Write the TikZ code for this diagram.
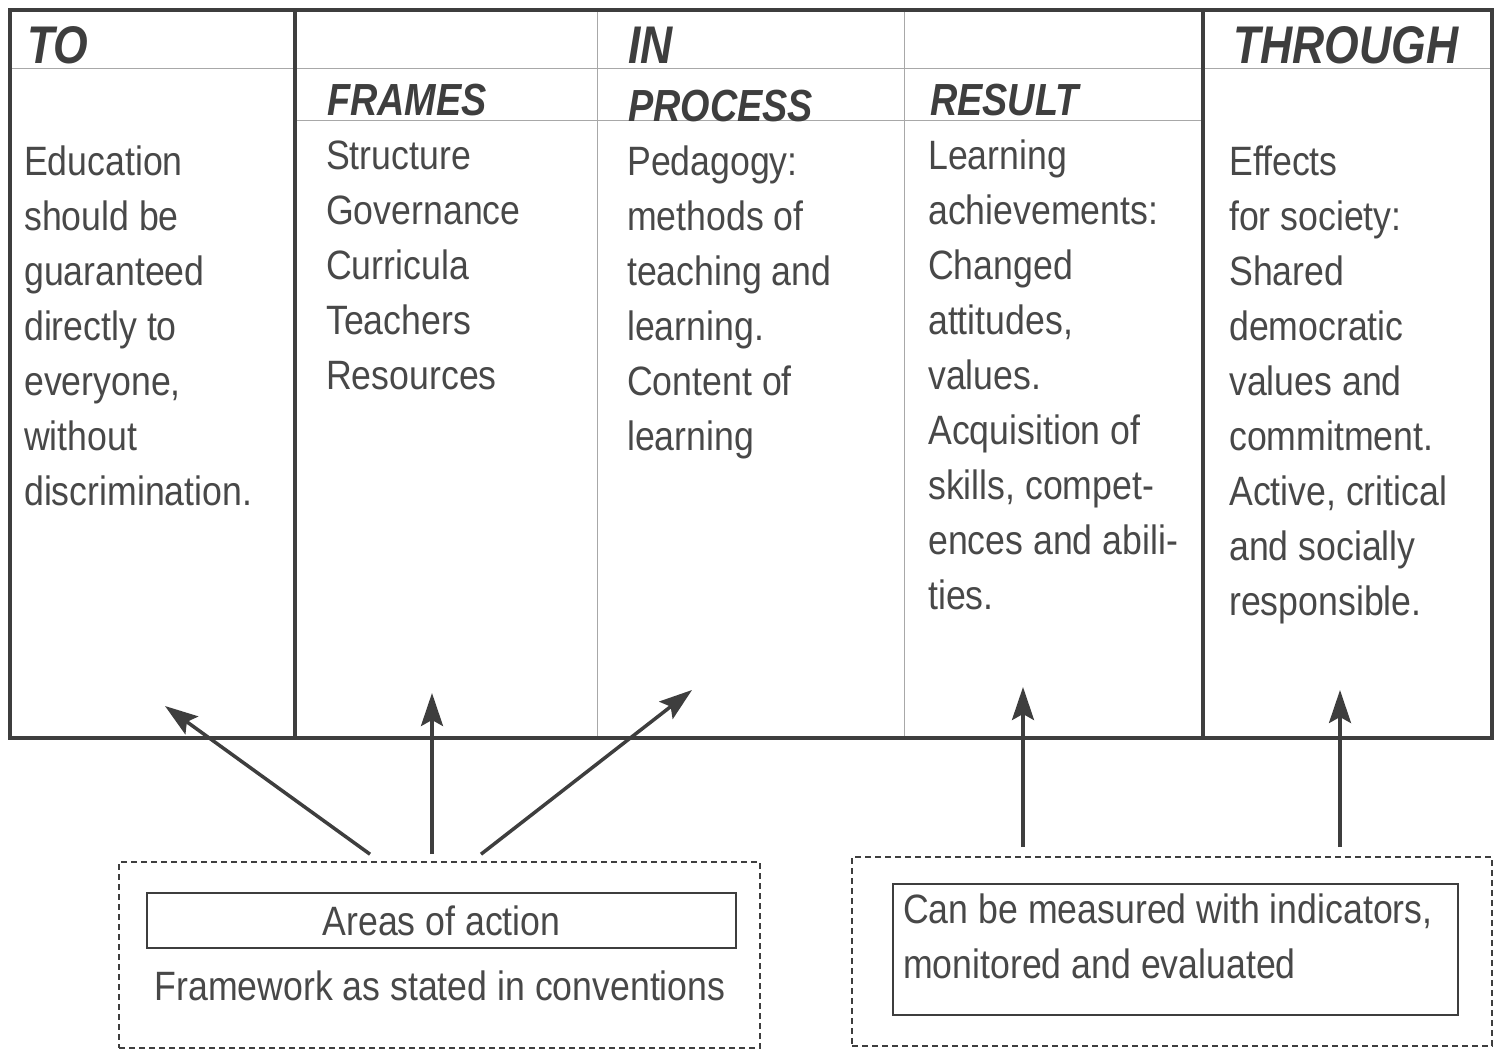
\documentclass[tikz,border=0pt]{standalone}
\usepackage{fontspec}
\newfontfamily\bodyfont{Liberation Sans}[FakeStretch=0.87]
\newfontfamily\headfont{Liberation Sans}[FakeStretch=0.84]
\usetikzlibrary{arrows.meta}
\definecolor{ink}{HTML}{3E3E3E}
\definecolor{bodyink}{HTML}{484848}
\definecolor{rulegray}{HTML}{A8A8A8}

\begin{document}
\begin{tikzpicture}[x=1pt,y=-1pt,
        every node/.style={inner sep=0pt, text=ink},
        head/.style={anchor=base west, font=\headfont\bfseries\itshape\fontsize{53}{53}\selectfont},
        subhead/.style={anchor=base west, font=\headfont\bfseries\itshape\fontsize{45}{45}\selectfont},
        body/.style={anchor=base west, align=left, text=bodyink, font=\bodyfont\fontsize{41}{55}\selectfont},
        thinrule/.style={draw=rulegray, line width=1pt},
        thickrule/.style={draw=ink, line width=4.5pt},
        pointer/.style={draw=ink, line width=3.5pt, -{Stealth[length=33pt, width=22pt, inset=6pt]}},
        dashbox/.style={draw=ink, line width=1.6pt, dash pattern=on 6pt off 4pt},
        solidbox/.style={draw=ink, line width=1.8pt}]
        \useasboundingbox (0,0) rectangle (1495,1050);

        % table rules
        \draw[thinrule] (10,68) -- (1492,68);
        \draw[thinrule] (295,120) -- (1203,120);
        \draw[thinrule] (597,8) -- (597,738);
        \draw[thinrule] (904,10) -- (904,738);
        \draw[thickrule] (10,10) rectangle (1492,738);
        \draw[thickrule] (295,8) -- (295,740);
        \draw[thickrule] (1203,10) -- (1203,736);

        % headings
        \node[head] (to) at (27,63) {TO};
        \node[head] (in) at (628,63) {IN};
        \node[head] (through) at (1233,63) {THROUGH};
        \node[subhead] (frames) at (327,115) {FRAMES};
        \node[subhead] (process) at (628,121) {PROCESS};
        \node[subhead] (result) at (930,115) {RESULT};

        % column texts (placed by the baseline of their last line)
        \node[body] (toText) at (24,505) {Education\\should be\\guaranteed\\directly to\\everyone,\\without\\discrimination.};
        \node[body] (framesText) at (326,389) {Structure\\Governance\\Curricula\\Teachers\\Resources};
        \node[body] (processText) at (627,450) {Pedagogy:\\methods of\\teaching and\\learning.\\Content of\\learning};
        \node[body] (resultText) at (928,609) {Learning\\achievements:\\Changed\\attitudes,\\values.\\Acquisition of\\skills, compet-\\ences and abili-\\ties.};
        \node[body] (throughText) at (1229,615) {Effects\\for society:\\Shared\\democratic\\values and\\commitment.\\Active, critical\\and socially\\responsible.};

        % lower boxes
        \node[dashbox, minimum width=641pt, minimum height=186pt] (action) at (439.5,955) {};
        \node[solidbox, minimum width=589pt, minimum height=55pt, text=bodyink, font=\bodyfont\fontsize{41}{55}\selectfont] (areas) at (441.5,920.5) {Areas of action};
        \node[body, anchor=base] (framework) at (440,1000) {Framework as stated in conventions};

        \node[dashbox, minimum width=640pt, minimum height=189pt] (measure) at (1172,951.5) {};
        \node[solidbox, minimum width=565pt, minimum height=131pt] (measured) at (1175.5,949.5) {};
        \node[body] (measureText) at (903,978) {Can be measured with indicators,\\monitored and evaluated};

        % arrows
        \coordinate (toTip) at (165,706);
        \coordinate (framesTip) at (432,693);
        \coordinate (processTip) at (692,690);
        \coordinate (resultTip) at (1023,687);
        \coordinate (throughTip) at (1340,690);

        \draw[pointer] ([xshift=-69.5pt,yshift=7pt]action.north) -- (toTip);
        \draw[pointer] ([xshift=-7.5pt,yshift=7pt]action.north) -- (framesTip);
        \draw[pointer] ([xshift=41.5pt,yshift=7pt]action.north) -- (processTip);
        \draw[pointer] ([xshift=-149pt,yshift=9pt]measure.north) -- (resultTip);
        \draw[pointer] ([xshift=168pt,yshift=9pt]measure.north) -- (throughTip);
    \end{tikzpicture}
\end{document}
